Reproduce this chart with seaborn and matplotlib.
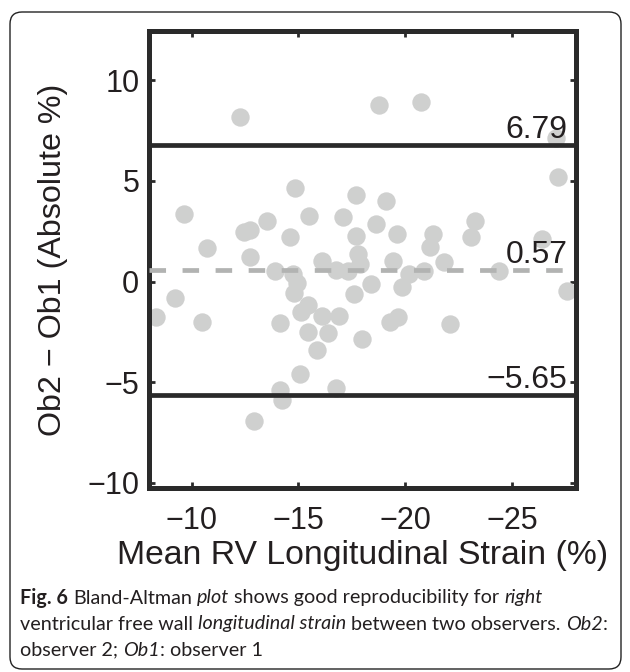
import matplotlib
matplotlib.use("Agg")
import matplotlib.pyplot as plt
import matplotlib.transforms as mtransforms
from matplotlib.patches import FancyBboxPatch
import seaborn as sns
import pandas as pd

# mean of the two observers (x) and Ob2 - Ob1 difference (y)
mean_strain = [-12.26, -18.78, -20.75, -27.08, -27.17, -9.66, -14.83, -17.69, -19.12, -15.48,
               -17.08, -13.53, -18.64, -12.44, -12.73, -10.74, -14.62, -17.68, -19.63, -21.28,
               -23.29, -23.10, -26.40, -21.14, -17.79, -12.71, -16.08, -19.42, -21.82, -17.89,
               -13.89, -14.75, -16.74, -17.33, -20.20, -20.90, -24.41, -14.91, -18.38, -19.87,
               -27.58, -14.80, -17.59, -9.22, -8.31, -10.46, -14.14, -15.43, -15.11, -16.11,
               -16.90, -15.46, -16.39, -17.98, -19.27, -19.64, -22.10, -15.86, -15.06, -14.13,
               -14.23, -16.74, -12.93]
difference = [8.16, 8.77, 8.92, 7.15, 5.21, 3.35, 4.63, 4.28, 4.03, 3.25,
              3.21, 3.03, 2.88, 2.45, 2.56, 1.66, 2.22, 2.26, 2.38, 2.39,
              3.01, 2.20, 2.10, 1.70, 1.38, 1.22, 1.04, 1.04, 0.97, 0.87,
              0.51, 0.37, 0.57, 0.52, 0.37, 0.54, 0.55, -0.09, -0.12, -0.25,
              -0.47, -0.57, -0.63, -0.83, -1.75, -1.99, -2.05, -1.17, -1.50, -1.71,
              -1.69, -2.50, -2.53, -2.84, -1.99, -1.76, -2.08, -3.40, -4.60, -5.39,
              -5.89, -5.26, -6.91]
bias = 0.57
upper_loa = 6.79
lower_loa = -5.65
x_ticks = [-10, -15, -20, -25]
y_ticks = [-10, -5, 0, 5, 10]

sns.set_theme(style="ticks")
plt.rcParams['font.family'] = ['Liberation Sans', 'DejaVu Sans']
dark = "#2a2a2a"

fig = plt.figure(figsize=(6.3, 6.72), dpi=100)
ax = fig.add_axes([0.2365, 0.2738, 0.6778, 0.6801])

df = pd.DataFrame({"mean": mean_strain, "diff": difference})
sns.scatterplot(data=df, x="mean", y="diff", ax=ax, s=175, color="#cfd0cf",
                linewidth=0, zorder=2)

ax.axhline(upper_loa, color=dark, lw=3.4, zorder=3)
ax.axhline(lower_loa, color=dark, lw=3.4, zorder=3)
ax.axhline(bias, color="#b2b3b2", lw=3.4, dashes=(3.5, 3.5), zorder=3)

for val in [upper_loa, bias, lower_loa]:
    ax.text(-27.6, val + 0.02, f"{val:.2f}".replace("-", "\u2212"), ha="right", va="bottom",
            fontsize=23, color="#231f20", zorder=5)

ax.set_xlim(-8, -28)
ax.set_ylim(-10.25, 12.45)
ax.set_xticks(x_ticks)
ax.set_yticks(y_ticks)
ax.tick_params(direction="in", length=4, width=2, top=True, right=True,
               labeltop=False, labelright=False, labelsize=22, pad=7,
               colors=dark, labelcolor="#231f20")
ax.tick_params(axis="x", pad=13)
for sp in ax.spines.values():
    sp.set_linewidth(3.6)
    sp.set_color(dark)
ax.set_xlabel("Mean RV Longitudinal Strain (%)", fontsize=24.3, color="#231f20", labelpad=3)
ax.set_ylabel("Ob2 \u2212 Ob1 (Absolute %)", fontsize=23.2, color="#231f20", labelpad=14)

# rounded frame around the figure panel
fig.add_artist(FancyBboxPatch((10, 3), 611, 657, boxstyle="round,pad=0,rounding_size=12",
                              transform=mtransforms.IdentityTransform(), fill=False,
                              lw=1.0, ec="#222222"))

# caption with mixed bold / italic words
cap_font = ['Lato', 'DejaVu Sans']
cap_size = 14.2
caption = [
    [("Fig. 6", "bold", "normal"), (" Bland-Altman ", "normal", "normal"), ("plot", "normal", "italic"),
     (" shows good reproducibility for ", "normal", "normal"), ("right", "normal", "italic")],
    [("ventricular free wall ", "normal", "normal"), ("longitudinal strain", "normal", "italic"),
     (" between two observers. ", "normal", "normal"), ("Ob2", "normal", "italic"), (":", "normal", "normal")],
    [("observer 2; ", "normal", "normal"), ("Ob1", "normal", "italic"), (": observer 1", "normal", "normal")],
]
renderer = fig.canvas.get_renderer()


def text_width(s, weight, style):
    t = fig.text(0, 0, s, fontsize=cap_size, family=cap_font, weight=weight, style=style)
    w = t.get_window_extent(renderer).width
    t.remove()
    return w


space_w = text_width("x x", "normal", "normal") - text_width("xx", "normal", "normal")
line_y = [598, 624, 650]
for row, yy in zip(caption, line_y):
    x = 20.0
    for s, weight, style in row:
        lead = len(s) - len(s.lstrip(" "))
        trail = len(s) - len(s.rstrip(" "))
        core = s.strip(" ")
        x += lead * space_w
        fig.text(x / 630, 1 - yy / 672, core, fontsize=cap_size, family=cap_font,
                 weight=weight, style=style, color="#231f20", va="center", ha="left")
        x += text_width(core, weight, style) + trail * space_w

fig.savefig("out.png", dpi=100)
